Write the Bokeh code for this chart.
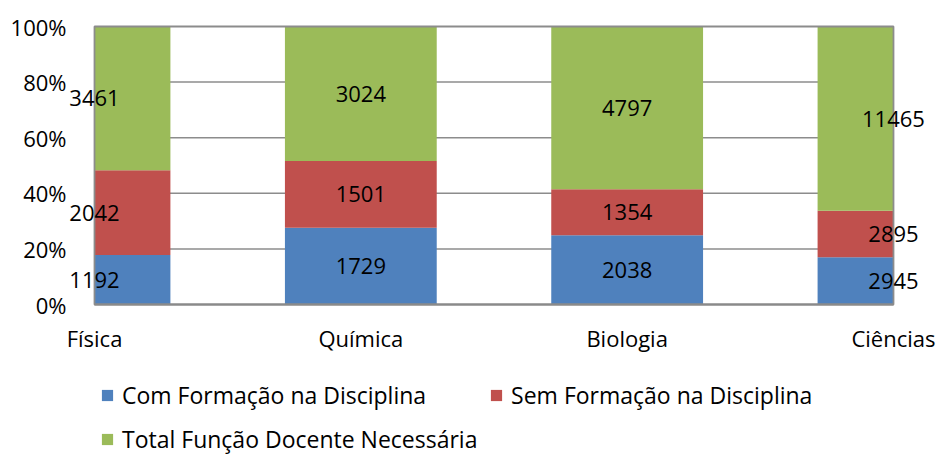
import numpy as np
from bokeh.plotting import figure
from bokeh.models import (ColumnDataSource, Range1d, FixedTicker, NumeralTickFormatter,
                          LabelSet, Legend, LegendItem)
from bokeh.core.properties import value
from bokeh.embed import file_html
from bokeh.resources import INLINE

categories = ["Física", "Química", "Biologia", "Ciências"]
com_formacao = [1192, 1729, 2038, 2945]
sem_formacao = [2042, 1501, 1354, 2895]
total_necessaria = [3461, 3024, 4797, 11465]
series_names = ["Com Formação na Disciplina", "Sem Formação na Disciplina",
                "Total Função Docente Necessária"]
colors = ["#4F81BD", "#C0504D", "#9BBB59"]
y_ticks = [0, 0.2, 0.4, 0.6, 0.8, 1.0]

FONT = "Open Sans"
FS = "22px"
LEG_FS = "23px"
GRAY = "#8c8c8c"
BAR_W = 0.57

# layout (pixels)
W, H = 938, 455
PX_X = 266.33        # px per category step
PX_Y = 278.0         # px for 0..100 %
PAD_L_PX = 27        # plot frame reaches left of the first category (room for labels)
LEFT_BORDER = 67
TOP_BORDER = 24
PAD_T_PX = 2
AXIS_Y_PX = 304      # page y of the 0 % baseline

series = [com_formacao, sem_formacao, total_necessaria]
n = len(categories)
totals = np.sum(np.array(series, dtype=float), axis=0)
xs = np.arange(n, dtype=float)
fracs = [np.array(s, dtype=float) / totals for s in series]

frame_w = W - LEFT_BORDER
x_start = -PAD_L_PX / PX_X
x_end = x_start + frame_w / PX_X
y_start = -(H - AXIS_Y_PX) / PX_Y
y_end = 1 + PAD_T_PX / PX_Y

p = figure(width=W, height=H, output_backend="svg", toolbar_location=None,
           x_range=Range1d(x_start, x_end), y_range=Range1d(y_start, y_end),
           min_border_left=LEFT_BORDER, min_border_right=0,
           min_border_top=TOP_BORDER, min_border_bottom=0)

# bars, clipped to the plot area between the first and last category
left = np.clip(xs - BAR_W / 2, 0, n - 1)
right = np.clip(xs + BAR_W / 2, 0, n - 1)
rs = []
cum = np.zeros(n)
for f, c in zip(fracs, colors):
    rs.append(p.quad(left=left, right=right, bottom=cum.copy(), top=cum + f,
                     fill_color=c, line_color=None))
    cum = cum + f

# gridlines across the plot area
inner = y_ticks[1:-1]
p.segment(x0=[0] * len(inner), x1=[n - 1] * len(inner), y0=inner, y1=inner,
          line_color=GRAY, line_width=1.5, level="underlay")

# plot area border
p.quad(left=[0], right=[n - 1], bottom=[y_ticks[0]], top=[y_ticks[-1]], fill_color=None,
       line_color=GRAY, line_width=1.8)

# data labels
lx, ly, lt = [], [], []
cum = np.zeros(n)
for s, f in zip(series, fracs):
    for i in range(n):
        lx.append(xs[i])
        ly.append(cum[i] + f[i] / 2)
        lt.append(str(s[i]))
    cum = cum + f
lab_src = ColumnDataSource(dict(x=lx, y=ly, t=lt))
p.add_layout(LabelSet(x="x", y="y", text="t", source=lab_src, text_align="center",
                      text_baseline="middle", text_font=value(FONT),
                      text_font_size=value(FS), text_color="black"))

# category axis drawn at the 0 % line
p.xaxis.fixed_location = 0
p.xaxis.ticker = FixedTicker(ticks=list(range(n)))
p.xaxis.major_label_overrides = {i: c for i, c in enumerate(categories)}
p.xaxis.bounds = (0, n - 1)
p.xaxis.major_tick_line_color = None
p.xaxis.minor_tick_line_color = None
p.xaxis.major_tick_out = 0
p.xaxis.axis_line_color = "#8a8a8a"
p.xaxis.axis_line_width = 2
p.xaxis.major_label_standoff = 18
p.xaxis.major_label_text_font = FONT
p.xaxis.major_label_text_font_size = FS
p.xaxis.major_label_text_color = "black"

p.yaxis.ticker = FixedTicker(ticks=y_ticks)
p.yaxis.formatter = NumeralTickFormatter(format="0%")
p.yaxis.major_tick_line_color = None
p.yaxis.minor_tick_line_color = None
p.yaxis.major_tick_out = 0
p.yaxis.axis_line_color = None
p.yaxis.major_label_standoff = 1
p.yaxis.major_label_text_font = FONT
p.yaxis.major_label_text_font_size = FS
p.yaxis.major_label_text_color = "black"

p.grid.visible = False
p.outline_line_color = None


def make_legend(items, loc, spacing):
    return Legend(items=items, orientation="horizontal", location=loc, spacing=spacing,
                  label_text_font=FONT, label_text_font_size=LEG_FS,
                  label_text_color="black",
                  glyph_width=14, glyph_height=14, label_standoff=8, padding=0,
                  margin=0, border_line_color=None, background_fill_alpha=0)


LEG_X = 100 - LEFT_BORDER
leg1 = make_legend([LegendItem(label=series_names[0], renderers=[rs[0]]),
                    LegendItem(label=series_names[1], renderers=[rs[1]])],
                   (LEG_X, 44), 63)
leg2 = make_legend([LegendItem(label=series_names[2], renderers=[rs[2]])],
                   (LEG_X, 0), 10)
p.add_layout(leg1)
p.add_layout(leg2)

open("out.html", "w").write(file_html(p, INLINE))
